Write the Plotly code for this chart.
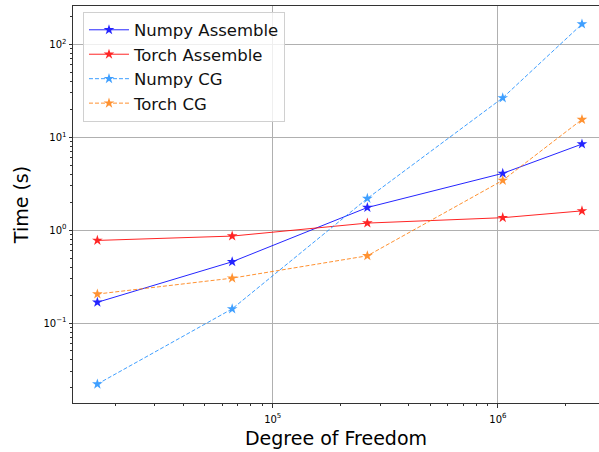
import plotly.graph_objects as go
import numpy as np

dof = [16641, 66049, 263169, 1050625, 2362369]
numpy_assemble = [0.167, 0.456, 1.75, 4.08, 8.43]
torch_assemble = [0.774, 0.862, 1.19, 1.36, 1.61]
numpy_cg = [0.022, 0.142, 2.19, 26.5, 165]
torch_cg = [0.205, 0.304, 0.529, 3.43, 15.5]

series = [
    ("Numpy Assemble", numpy_assemble, "#0000ff", "solid"),
    ("Torch Assemble", torch_assemble, "#ff0000", "solid"),
    ("Numpy CG", numpy_cg, "#1e8fff", "dash"),
    ("Torch CG", torch_cg, "#ff7f0e", "dash"),
]

FONT = "DejaVu Sans"
fig = go.Figure()
for name, ys, col, dash in series:
    fig.add_trace(go.Scatter(
        x=dof, y=ys, name=name, mode="lines+markers",
        line=dict(color=col, width=1, dash="4px,2px" if dash == "dash" else "solid"),
        marker=dict(symbol="star", size=8, color=col, line=dict(width=0)),
        opacity=0.85,
    ))

xminor = [k * 10 ** e for e in range(4, 7) for k in range(2, 10)]
yminor = [k * 10.0 ** e for e in range(-2, 3) for k in range(2, 10)]

fig.update_layout(
    width=599, height=452,
    margin=dict(l=73, r=0, t=6, b=49),
    paper_bgcolor="white", plot_bgcolor="white",
    font=dict(family=FONT, color="black"),
    showlegend=True,
    legend=dict(
        x=0.019, y=0.986, xanchor="left", yanchor="top",
        bgcolor="rgba(255,255,255,0.8)", bordercolor="#d0d0d0", borderwidth=1,
        font=dict(size=16.5, family=FONT, color="#111"),
        itemwidth=40,
    ),
    xaxis=dict(
        type="log", range=[4.113, 6.449],
        tickvals=[1e5, 1e6], ticktext=["10<sup>5</sup>", "10<sup>6</sup>"],
        ticks="outside", ticklen=3.5, tickcolor="#333", tickwidth=1,
        ticklabelstandoff=3,
        showgrid=True, gridcolor="#b0b0b0", gridwidth=1,
        showline=True, linecolor="#333", linewidth=1, mirror=True,
        tickfont=dict(size=10, family=FONT),
        minor=dict(tickvals=xminor, ticks="outside", ticklen=2, tickcolor="#333", showgrid=False),
        title=dict(text="Degree of Freedom", font=dict(size=19, family=FONT), standoff=8),
        zeroline=False,
    ),
    yaxis=dict(
        type="log", range=[-1.861, 2.412],
        tickvals=[0.1, 1, 10, 100],
        ticktext=["10<sup>\u22121</sup>", "10<sup>0</sup>", "10<sup>1</sup>", "10<sup>2</sup>"],
        ticks="outside", ticklen=3.5, tickcolor="#333", tickwidth=1,
        showgrid=True, gridcolor="#b0b0b0", gridwidth=1,
        showline=True, linecolor="#333", linewidth=1, mirror=False,
        tickfont=dict(size=10, family=FONT),
        minor=dict(tickvals=yminor, ticks="outside", ticklen=2, tickcolor="#333", showgrid=False),
        title=dict(text="Time (s)", font=dict(size=19, family=FONT), standoff=9),
        zeroline=False,
    ),
)

fig.write_html("out.html")
